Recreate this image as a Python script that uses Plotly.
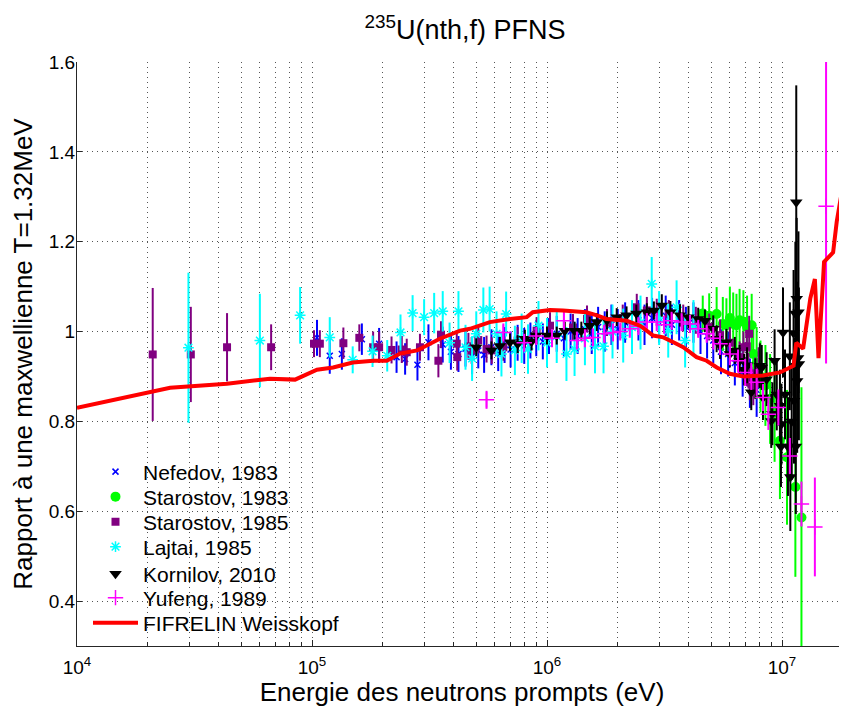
import plotly.graph_objects as go

# ---------------- data ----------------
E_nef = [1.05e5, 1.19e5, 1.34e5, 1.63e5, 1.93e5, 2.29e5, 2.49e5, 2.81e5, 3.13e5, 3.6e5,
         3.9e5, 4.2e5, 4.5e5, 4.8e5, 5.1e5, 5.4e5, 5.8e5, 6.2e5, 6.6e5, 7.0e5,
         7.5e5, 8.0e5, 8.5e5, 9.0e5, 9.6e5, 1.02e6, 1.1e6, 1.18e6, 1.26e6, 1.35e6,
         1.45e6, 1.55e6, 1.65e6, 1.76e6, 1.88e6, 2.0e6, 2.15e6, 2.3e6, 2.45e6, 2.6e6,
         2.8e6, 3.0e6, 3.2e6, 3.4e6, 3.65e6, 3.9e6, 4.2e6, 4.5e6, 4.8e6, 5.1e6,
         5.5e6, 5.9e6, 6.3e6, 6.8e6, 7.3e6, 7.8e6]
v_nef = [0.986, 0.946, 0.950, 0.983, 0.973, 0.943, 0.939, 0.926, 0.976, 0.971,
         0.955, 0.950, 0.962, 0.945, 0.958, 0.948, 0.965, 0.952, 0.970, 0.960,
         0.975, 0.968, 0.980, 0.985, 0.978, 0.990, 0.995, 0.985, 1.000, 0.990,
         1.005, 0.995, 1.010, 1.000, 1.015, 1.005, 1.020, 1.010, 1.025, 1.015,
         1.030, 1.020, 1.035, 1.015, 1.025, 1.010, 1.020, 1.000, 0.990, 0.980,
         0.955, 0.950, 0.930, 0.910, 0.885, 0.870]
err_nef = [0.040, 0.040, 0.035, 0.035, 0.035, 0.035, 0.035, 0.035, 0.040, 0.040,
           0.040, 0.040, 0.040, 0.040, 0.040, 0.040, 0.040, 0.040, 0.040, 0.040,
           0.040, 0.040, 0.040, 0.040, 0.040, 0.040, 0.040, 0.040, 0.040, 0.040,
           0.045, 0.045, 0.045, 0.045, 0.045, 0.045, 0.045, 0.045, 0.045, 0.045,
           0.045, 0.045, 0.045, 0.045, 0.045, 0.045, 0.045, 0.050, 0.050, 0.050,
           0.050, 0.050, 0.050, 0.055, 0.055, 0.060]

E_s83 = [4.6e6, 4.9e6, 5.27e6, 5.6e6, 5.8e6, 6.0e6, 6.2e6, 6.4e6, 6.6e6, 6.85e6,
         7.1e6, 7.43e6, 7.55e6, 7.8e6, 8.1e6, 8.5e6, 8.9e6, 9.3e6, 9.8e6, 1.05e7,
         1.14e7, 1.21e7]
v_s83 = [1.040, 1.035, 1.039, 1.017, 1.014, 1.030, 1.017, 1.014, 1.025, 1.022,
         1.010, 1.014, 0.950, 0.930, 0.900, 0.880, 0.850, 0.820, 0.757, 0.720,
         0.654, 0.586]
err_s83 = [0.040, 0.050, 0.060, 0.060, 0.060, 0.070, 0.070, 0.070, 0.070, 0.070,
           0.070, 0.070, 0.070, 0.080, 0.080, 0.090, 0.100, 0.110, 0.130, 0.150,
           0.200, 0.290]

E_s85 = [2.10e4, 3.05e4, 4.35e4, 6.70e4, 1.02e5, 1.08e5, 1.36e5, 1.59e5, 1.82e5, 1.93e5,
         2.18e5, 2.41e5, 2.53e5, 2.88e5, 3.45e5, 3.54e5, 4.13e5, 4.15e5, 4.63e5, 4.78e5,
         5.1e5, 5.53e5, 5.82e5, 6.52e5, 7.5e5, 9.03e5, 1.03e6, 1.29e6, 1.48e6, 1.8e6,
         2.1e6, 2.41e6, 2.66e6, 2.93e6, 3.3e6, 3.8e6, 4.3e6, 4.9e6, 5.45e6, 6.0e6,
         6.6e6, 6.85e6, 7.08e6, 7.2e6, 7.25e6, 7.3e6, 7.55e6, 7.7e6, 7.95e6]
v_s85 = [0.949, 0.949, 0.965, 0.965, 0.973, 0.973, 0.974, 0.986, 0.965, 0.965,
         0.959, 0.960, 0.954, 0.965, 0.935, 0.993, 0.973, 0.943, 0.967, 0.958,
         0.981, 0.961, 0.958, 0.965, 0.980, 1.002, 1.013, 1.009, 1.028, 1.020,
         1.030, 1.054, 1.047, 1.043, 1.040, 1.030, 1.025, 1.010, 0.992, 0.975,
         0.943, 0.965, 0.967, 0.913, 0.995, 0.887, 0.876, 0.902, 0.920]
err_s85 = [0.148, 0.106, 0.076, 0.051, 0.030, 0.030, 0.035, 0.030, 0.035, 0.035,
           0.030, 0.030, 0.030, 0.030, 0.037, 0.030, 0.030, 0.030, 0.030, 0.030,
           0.030, 0.030, 0.030, 0.030, 0.030, 0.030, 0.030, 0.030, 0.030, 0.030,
           0.030, 0.030, 0.030, 0.030, 0.030, 0.030, 0.030, 0.030, 0.035, 0.035,
           0.035, 0.035, 0.035, 0.040, 0.040, 0.040, 0.040, 0.040, 0.045]

E_laj = [2.98e4, 6.0e4, 8.9e4, 1.19e5, 1.49e5, 1.81e5, 2.09e5, 2.38e5, 2.68e5, 3.0e5,
         3.31e5, 3.6e5, 3.85e5, 4.2e5, 4.5e5, 4.8e5, 5.0e5, 5.36e5, 5.7e5, 6.1e5,
         6.4e5, 6.7e5, 7.3e5, 7.8e5, 8.3e5, 9.2e5, 1.0e6, 1.1e6, 1.21e6, 1.31e6,
         1.45e6, 1.6e6, 1.74e6, 1.9e6, 2.11e6, 2.3e6, 2.5e6, 2.79e6, 3.0e6, 3.28e6,
         3.56e6, 3.87e6, 4.2e6]
v_laj = [0.964, 0.980, 1.036, 0.987, 0.937, 0.956, 0.946, 0.998, 1.041, 1.032,
         1.041, 1.045, 0.975, 1.045, 0.965, 0.940, 0.995, 1.048, 1.050, 0.995,
         0.950, 1.039, 0.958, 0.985, 0.961, 1.013, 0.975, 0.990, 0.950, 0.961,
         0.985, 0.967, 0.967, 1.000, 0.991, 1.010, 1.020, 1.106, 1.030, 1.002,
         1.054, 0.980, 1.010]
err_laj = [0.167, 0.104, 0.063, 0.045, 0.030, 0.035, 0.035, 0.040, 0.040, 0.040,
           0.045, 0.045, 0.045, 0.045, 0.050, 0.050, 0.050, 0.050, 0.050, 0.050,
           0.050, 0.050, 0.055, 0.055, 0.055, 0.055, 0.055, 0.060, 0.060, 0.060,
           0.060, 0.060, 0.060, 0.060, 0.060, 0.060, 0.060, 0.060, 0.060, 0.060,
           0.060, 0.060, 0.060]

E_kor = [5.0e5, 5.8e5, 6.3e5, 6.96e5, 7.5e5, 8.05e5, 8.6e5, 9.0e5, 1.0e6, 1.1e6,
         1.19e6, 1.31e6, 1.4e6, 1.52e6, 1.63e6, 1.8e6, 1.98e6, 2.18e6, 2.4e6, 2.66e6,
         2.85e6, 3.08e6, 3.35e6, 3.68e6, 4.0e6, 4.4e6, 4.7e6, 5.1e6, 5.27e6, 5.45e6,
         5.8e6, 6.0e6, 6.3e6, 6.6e6, 6.9e6, 7.1e6, 7.4e6, 7.7e6, 8.05e6, 8.2e6,
         8.3e6, 8.6e6, 9.0e6, 9.1e6, 9.3e6, 9.5e6, 9.8e6, 9.95e6, 9.9e6, 1.01e7,
         1.03e7, 1.06e7, 1.08e7, 1.085e7, 1.1e7, 1.12e7, 1.125e7, 1.14e7, 1.145e7, 1.15e7,
         1.155e7, 1.16e7, 1.17e7, 1.175e7, 1.18e7]
v_kor = [0.965, 0.958, 0.968, 0.976, 0.972, 0.984, 0.978, 0.991, 0.991, 0.991,
         1.002, 1.002, 1.002, 1.013, 1.021, 1.025, 1.032, 1.036, 1.040, 1.043,
         1.047, 1.058, 1.043, 1.036, 1.032, 1.028, 1.024, 1.006, 0.984, 0.969,
         0.976, 0.950, 0.958, 0.935, 0.915, 0.925, 0.865, 0.895, 0.924, 0.920,
         0.853, 0.894, 0.801, 0.817, 0.935, 0.860, 0.835, 0.794, 0.744, 0.998,
         0.860, 0.744, 0.945, 0.676, 0.800, 0.997, 0.846, 1.040, 0.744, 1.288,
         1.073, 0.890, 0.941, 1.043, 0.928]
err_kor = [0.020, 0.020, 0.020, 0.020, 0.020, 0.020, 0.020, 0.020, 0.020, 0.020,
           0.020, 0.020, 0.020, 0.020, 0.020, 0.020, 0.020, 0.020, 0.020, 0.020,
           0.020, 0.025, 0.025, 0.025, 0.025, 0.025, 0.025, 0.030, 0.030, 0.030,
           0.030, 0.030, 0.030, 0.035, 0.035, 0.040, 0.040, 0.045, 0.050, 0.050,
           0.050, 0.060, 0.060, 0.070, 0.070, 0.080, 0.080, 0.090, 0.090, 0.100,
           0.100, 0.110, 0.120, 0.120, 0.130, 0.140, 0.140, 0.160, 0.150, 0.260,
           0.180, 0.160, 0.170, 0.180, 0.170]

E_yuf = [5.53e5, 6.52e5, 8.0e5, 9.0e5, 1.05e6, 1.18e6, 1.34e6, 1.45e6, 1.57e6, 1.75e6,
         1.91e6, 2.05e6, 2.25e6, 2.45e6, 2.66e6, 2.93e6, 3.15e6, 3.39e6, 3.74e6, 4.06e6,
         4.4e6, 4.78e6, 5.1e6, 5.45e6, 6.0e6, 6.5e6, 6.97e6, 7.4e6, 7.8e6, 8.3e6,
         8.75e6, 9.65e6, 1.08e7, 1.21e7, 1.38e7, 1.54e7]
v_yuf = [0.848, 0.998, 0.975, 0.990, 0.985, 1.024, 0.980, 0.985, 0.987, 0.995,
         0.998, 1.000, 1.006, 1.012, 1.021, 1.021, 1.015, 1.024, 1.021, 1.017,
         1.006, 0.995, 0.985, 0.973, 0.950, 0.935, 0.909, 0.900, 0.887, 0.853,
         0.816, 0.831, 0.723, 0.616, 0.565, 1.279]
err_yuf = [0.020, 0.020, 0.020, 0.020, 0.020, 0.020, 0.020, 0.020, 0.020, 0.020,
           0.020, 0.020, 0.020, 0.020, 0.020, 0.020, 0.020, 0.020, 0.020, 0.020,
           0.020, 0.020, 0.025, 0.025, 0.025, 0.025, 0.030, 0.030, 0.030, 0.030,
           0.035, 0.040, 0.040, 0.050, 0.110, 0.350]

E_fif = [1.0e4, 2.49e4, 4.35e4, 6.62e4, 8.47e4, 1.05e5, 1.23e5, 1.49e5, 1.82e5, 2.08e5,
         2.37e5, 2.80e5, 3.5e5, 4.27e5, 4.70e5, 5.71e5, 6.96e5, 8.2e5, 8.7e5, 1.03e6,
         1.17e6, 1.47e6, 1.63e6, 1.79e6, 2.18e6, 2.49e6, 2.83e6, 3.13e6, 3.45e6, 3.8e6,
         4.33e6, 4.78e6, 5.28e6, 6.0e6, 6.85e6, 8.3e6, 9.8e6, 1.12e7, 1.15e7, 1.23e7,
         1.32e7, 1.38e7, 1.43e7, 1.51e7, 1.65e7, 1.71e7, 1.80e7, 1.88e7, 1.92e7]
v_fif = [0.830, 0.875, 0.884, 0.895, 0.893, 0.915, 0.920, 0.931, 0.935, 0.935,
         0.951, 0.958, 0.984, 1.002, 1.006, 1.021, 1.028, 1.032, 1.043, 1.048,
         1.047, 1.043, 1.036, 1.028, 1.024, 1.013, 0.991, 0.987, 0.976, 0.965,
         0.943, 0.935, 0.920, 0.906, 0.900, 0.902, 0.909, 0.924, 0.975, 0.962,
         1.074, 1.117, 0.941, 1.155, 1.176, 1.245, 1.313, 1.360, 1.000]

x_major = [1e4, 1e5, 1e6, 1e7]
x_major_text = ["10<sup>4</sup>", "10<sup>5</sup>", "10<sup>6</sup>", "10<sup>7</sup>"]
x_minor = [m * d for d in (1e4, 1e5, 1e6) for m in range(2, 10)]
y_ticks = [0.4, 0.6, 0.8, 1.0, 1.2, 1.4, 1.6]
y_tick_text = ["0.4", "0.6", "0.8", "1", "1.2", "1.4", "1.6"]

FONT = "Liberation Sans, Arial, Helvetica, sans-serif"

# geometry: the page body adds an 8 px offset, so the figure is 8 px smaller
OFF = 8
W, H = 847 - OFF, 707 - OFF
L, T = 77 - OFF, 62 - OFF
B = H - (646 - OFF)
PW, PH = W - L, H - T - B
legend_rows_px = [472, 497, 522, 547, 574, 598, 623]

fig = go.Figure()

def add_series(E, v, err, name, color, symbol, size, legend_id, open_line=None):
    marker = dict(color=color, symbol=symbol, size=size)
    if open_line:
        marker["line"] = dict(color=color, width=open_line)
    else:
        marker["line"] = dict(width=0)
    fig.add_trace(go.Scatter(
        x=E, y=v, mode="markers", name=name, marker=marker,
        error_y=dict(type="data", array=err, color=color, thickness=2, width=0),
        legend=legend_id))

add_series(E_nef, v_nef, err_nef, "Nefedov, 1983", "#0000ff", "x-thin-open", 6, "legend", 1.5)
add_series(E_s83, v_s83, err_s83, "Starostov, 1983", "#00ff00", "circle", 10, "legend2")
add_series(E_s85, v_s85, err_s85, "Starostov, 1985", "#800080", "square", 8, "legend3")
add_series(E_laj, v_laj, err_laj, "Lajtai, 1985", "#00ffff", "asterisk-open", 9, "legend4", 1.5)
add_series(E_kor, v_kor, err_kor, "Kornilov, 2010", "#000000", "triangle-down", 11, "legend5")
add_series(E_yuf, v_yuf, err_yuf, "Yufeng, 1989", "#ff00ff", "cross-thin-open", 11, "legend6", 1.5)

fig.add_trace(go.Scatter(x=E_fif, y=v_fif, mode="lines", name="FIFRELIN Weisskopf",
                         line=dict(color="#ff0000", width=4), legend="legend7"))

grid_style = dict(showgrid=True, gridcolor="#555555", griddash="1px,4px", gridwidth=1)
axis_common = dict(
    showline=True, linecolor="#262626", linewidth=1, mirror=False,
    ticks="inside", tickcolor="#262626", zeroline=False, automargin=False,
    tickfont=dict(family=FONT, size=19, color="#000000"),
    **grid_style,
)

legend_style = dict(xanchor="left", yanchor="middle", bgcolor="rgba(0,0,0,0)", borderwidth=0,
                    font=dict(family=FONT, size=21, color="#000000"), itemwidth=45)
legends = {}
names = ["legend", "legend2", "legend3", "legend4", "legend5", "legend6", "legend7"]
for name, ypx in zip(names, legend_rows_px):
    legends[name] = dict(x=11 / PW, y=1 - (ypx - 62) / PH, **legend_style)

fig.update_layout(
    width=W, height=H,
    margin=dict(l=L, r=0, t=T, b=B),
    paper_bgcolor="white", plot_bgcolor="white",
    font=dict(family=FONT, color="#000000"),
    title=dict(text="<sup>235</sup>U(nth,f) PFNS", x=(465 - 77) / PW, xref="paper",
               xanchor="center", y=1 - (30 - OFF) / H, yref="container", yanchor="middle",
               font=dict(family=FONT, size=27, color="#000000")),
    xaxis=dict(type="log", range=[4, 4 + PW / 235], tickvals=x_major, ticktext=x_major_text,
               ticklen=6, ticklabelstandoff=4,
               minor=dict(tickvals=x_minor, ticks="inside", ticklen=4, tickcolor="#262626",
                          **grid_style),
               title=dict(text="Energie des neutrons prompts (eV)",
                          font=dict(family=FONT, size=26, color="#000000"), standoff=2),
               **axis_common),
    yaxis=dict(range=[0.3, 1.6], tickvals=y_ticks, ticktext=y_tick_text, ticklen=5,
               ticklabelstandoff=-3,
               title=dict(text="Rapport à une maxwellienne T=1.32MeV",
                          font=dict(family=FONT, size=26, color="#000000"), standoff=10),
               **axis_common),
    showlegend=True,
    **legends,
)

fig.write_html("out.html")
